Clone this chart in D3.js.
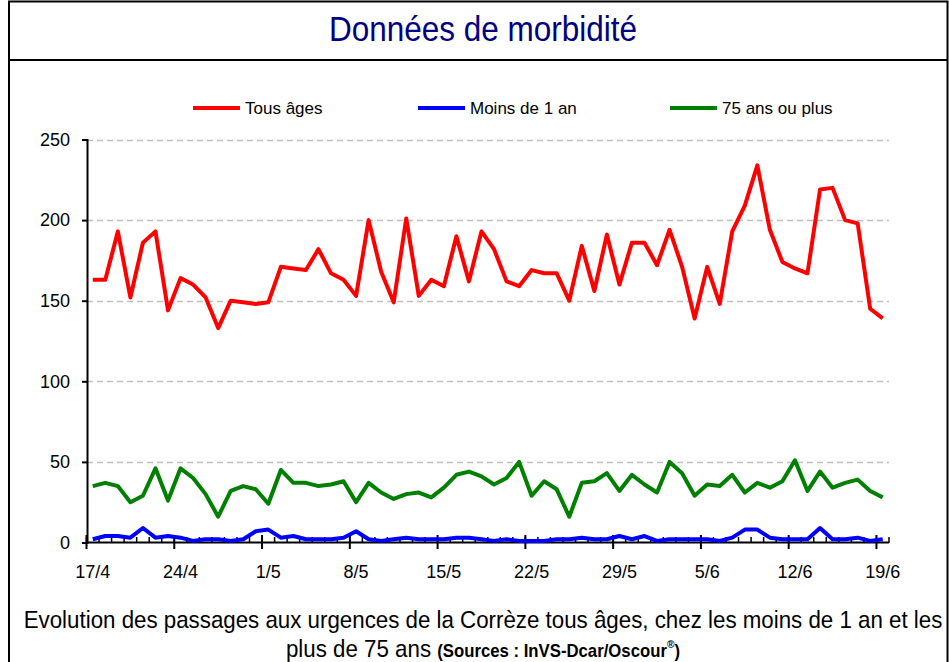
<!DOCTYPE html>
<html>
<head>
<meta charset="utf-8">
<script src="https://cdn.jsdelivr.net/npm/d3@7"></script>
<style>
  body { margin: 0; background: #fff; }
  svg { display: block; }
  text { font-family: "Liberation Sans", Arial, sans-serif; }
</style>
</head>
<body>
<svg id="chart" width="949" height="662"></svg>
<script>

// one point per day, 17/4 -> 19/6
let days = d3.timeDay.range(new Date(2011, 3, 17), new Date(2011, 5, 20))

let tickLabels = ["17/4","24/4","1/5","8/5","15/5","22/5","29/5","5/6","12/6","19/6"]

let yTicks = [0, 50, 100, 150, 200, 250]

let tous_ages = [163,163,193,152,186,193,144,164,160,152,
  133,150,149,148,149,171,170,169,182,167,
  163,153,200,168,149,201,153,163,159,190,
  162,193,182,162,159,169,167,167,150,184,
  156,191,160,186,186,172,194,171,139,171,
  148,193,209,234,194,174,170,167,219,220,
  200,198,145,139]

let moins_1_an = [2,4,4,3,9,3,4,3,1,2,
  2,1,2,7,8,3,4,2,2,2,
  3,7,2,1,2,3,2,2,2,3,
  3,2,1,2,1,1,1,2,2,3,
  2,2,4,2,4,1,2,2,2,2,
  1,3,8,8,3,2,2,2,9,2,
  2,3,1,2]

let plus_75 = [35,37,35,25,29,46,26,46,40,30,
  16,32,35,33,24,45,37,37,35,36,
  38,25,37,31,27,30,31,28,34,42,
  44,41,36,40,50,29,38,33,16,37,
  38,43,32,42,36,31,50,43,29,36,
  35,42,31,37,34,38,51,32,44,34,
  37,39,32,28]

let series = [
  {name: "Tous âges", values: tous_ages, color: "#ff0000"},
  {name: "Moins de 1 an", values: moins_1_an, color: "#0000ff"},
  {name: "75 ans ou plus", values: plus_75, color: "#008000"}
]

let svg = d3.select("#chart")

let fmt = d3.timeFormat("%-d/%-m")
let cats = days.map(d => fmt(d))

let x = d3.scalePoint().domain(cats).range([86.5, 889]).padding(0.5)
let step = x.step()
let y = d3.scaleLinear().domain([0, 250]).range([542.5, 139.5])

// frame
svg.append("path")
  .attr("d", "M9,662 V1.5 H947.5 V662")
  .attr("fill", "none").attr("stroke", "#000").attr("stroke-width", 2)
svg.append("line")
  .attr("x1", 9).attr("x2", 947.5).attr("y1", 60).attr("y2", 60)
  .attr("stroke", "#000").attr("stroke-width", 2)

// title (condensed look)
svg.append("text")
  .attr("transform", "translate(483,41) scale(0.875,1)")
  .attr("text-anchor", "middle")
  .attr("font-size", 36)
  .attr("fill", "#000080")
  .text("Données de morbidité")

// gridlines
svg.append("g").selectAll("line")
  .data(yTicks.filter(d => d > 0))
  .join("line")
  .attr("x1", 87).attr("x2", 889)
  .attr("y1", d => Math.round(y(d)) + 0.5).attr("y2", d => Math.round(y(d)) + 0.5)
  .attr("stroke", "#c0c0c0").attr("stroke-width", 1.5)
  .attr("stroke-dasharray", "6,4")

// y axis
let yAxis = svg.append("g")
  .attr("transform", "translate(87,0)")
  .call(d3.axisLeft(y).tickValues(yTicks).tickSize(5).tickPadding(12))
yAxis.select(".domain").attr("stroke-width", 2)
yAxis.selectAll(".tick line").attr("stroke-width", 2)
yAxis.selectAll("text").attr("font-family", "Liberation Sans, Arial, sans-serif").attr("font-size", 18).attr("fill", "#000")

// x axis: minor ticks at each day boundary, major every week
let bounds = d3.range(cats.length + 1).map(i => x.range()[0] + i * step)
let xg = svg.append("g")
xg.selectAll("line.minor")
  .data(bounds)
  .join("line")
  .attr("class", "minor")
  .attr("x1", d => d).attr("x2", d => d)
  .attr("y1", 537).attr("y2", 543)
  .attr("stroke", "#000").attr("stroke-width", 1.5)
xg.selectAll("line.major")
  .data(bounds.filter((d, i) => i % 7 == 0))
  .join("line")
  .attr("class", "major")
  .attr("x1", d => d).attr("x2", d => d)
  .attr("y1", 535).attr("y2", 549)
  .attr("stroke", "#000").attr("stroke-width", 2)
xg.append("line")
  .attr("x1", 86).attr("x2", 889)
  .attr("y1", 542.5).attr("y2", 542.5)
  .attr("stroke", "#000").attr("stroke-width", 2)
xg.selectAll("text")
  .data(tickLabels)
  .join("text")
  .attr("x", d => x(d))
  .attr("y", 578)
  .attr("text-anchor", "middle")
  .attr("font-size", 18)
  .text(d => d)

// lines
let line = d3.line()
  .x((d, i) => x(cats[i]))
  .y(d => y(d))

svg.append("g").selectAll("path")
  .data(series)
  .join("path")
  .attr("d", d => line(d.values))
  .attr("fill", "none")
  .attr("stroke", d => d.color)
  .attr("stroke-width", 4)
  .attr("stroke-linejoin", "round")

// legend
let legendX = [193, 418, 670]
let lg = svg.append("g").selectAll("g")
  .data(series)
  .join("g")
  .attr("transform", (d, i) => `translate(${legendX[i]},108)`)
lg.append("line")
  .attr("x1", 0).attr("x2", 47)
  .attr("stroke", d => d.color).attr("stroke-width", 4)
lg.append("text")
  .attr("x", 52).attr("y", 6)
  .attr("font-size", 17)
  .text(d => d.name)

// caption
svg.append("text")
  .attr("transform", "translate(483,628) scale(0.93,1)")
  .attr("text-anchor", "middle")
  .attr("font-size", 24)
  .text("Evolution des passages aux urgences de la Corrèze tous âges, chez les moins de 1 an et les")

let cap2 = svg.append("text")
  .attr("transform", "translate(483,657) scale(0.93,1)")
  .attr("text-anchor", "middle")
  .attr("font-size", 24)
cap2.append("tspan").text("plus de 75 ans ")
cap2.append("tspan").attr("font-size", 18).attr("font-weight", "bold").text("(Sources : InVS-Dcar/Oscour")
cap2.append("tspan").attr("font-size", 11).attr("font-weight", "bold").attr("dy", -9).text("®")
cap2.append("tspan").attr("font-size", 18).attr("font-weight", "bold").attr("dy", 9).text(")")

</script>
</body>
</html>
